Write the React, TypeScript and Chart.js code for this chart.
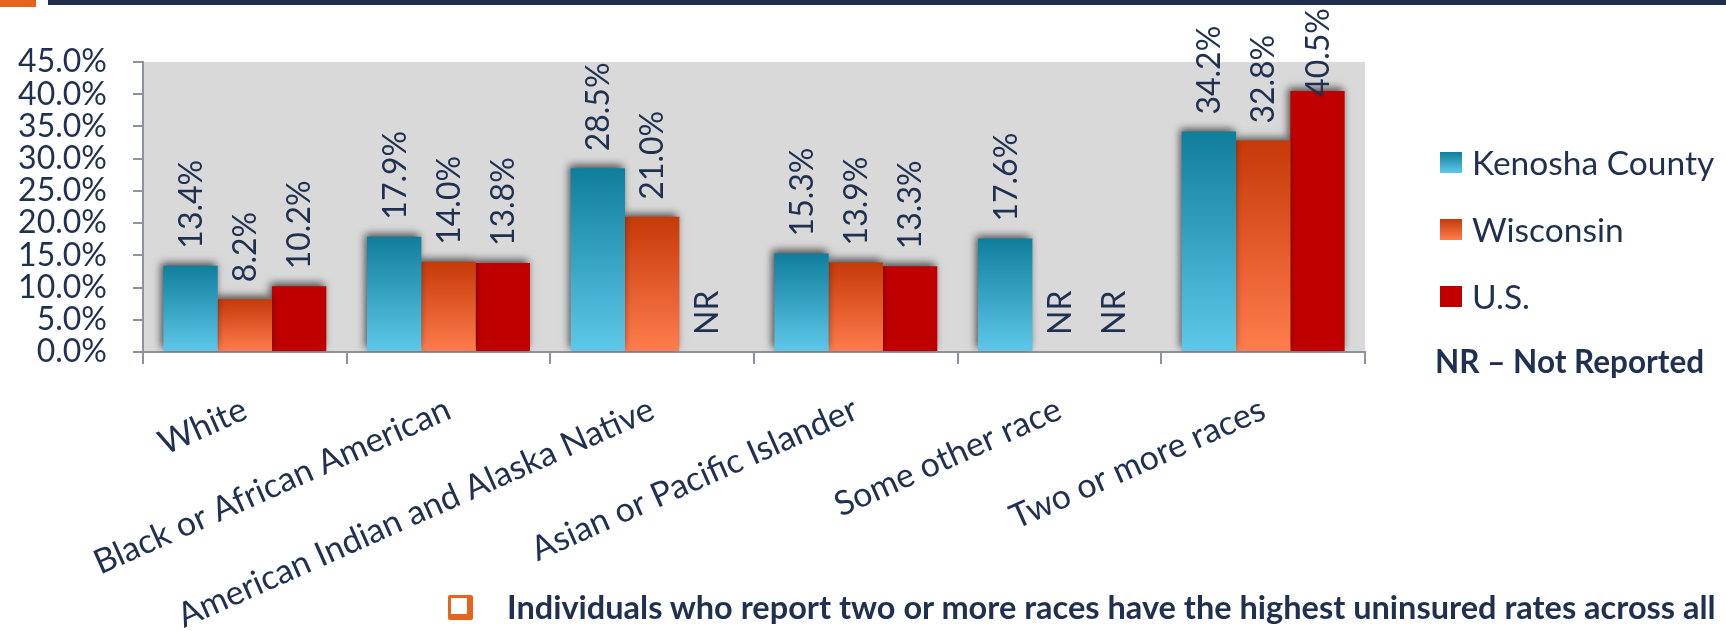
import React, { useEffect, useRef } from "react";
import { Chart, registerables } from "chart.js";

Chart.register(...registerables);

const categories = [
  "White",
  "Black or African American",
  "American Indian and Alaska Native",
  "Asian or Pacific Islander",
  "Some other race",
  "Two or more races",
];
const seriesNames = ["Kenosha County", "Wisconsin", "U.S."];
const kenosha = [13.4, 17.9, 28.5, 15.3, 17.6, 34.2];
const wisconsin = [8.2, 14.0, 21.0, 13.9, null, 32.8];
const us = [10.2, 13.8, null, 13.3, null, 40.5];
const yTicks = [0, 5, 10, 15, 20, 25, 30, 35, 40, 45];
const noteText = "NR \u2013 Not Reported";
const footText =
  "Individuals who report two or more races have the highest uninsured rates across all";

const NAVY = "#1F3050";
const gradients: [string, string][] = [
  ["#0F7E9D", "#5FC8EA"],
  ["#C63908", "#FF7D4E"],
  ["#C00000", "#C00000"],
];
const FONT = "Lato, 'Open Sans', sans-serif";

const makeGrad = (top: string, bottom: string) => (c: any) => {
  const chart = c.chart;
  const ys = chart.scales && chart.scales.y;
  if (!ys || c.type !== "data" || c.raw == null) return bottom;
  const yTop = ys.getPixelForValue(c.raw);
  const yBot = ys.getPixelForValue(0);
  if (!isFinite(yTop) || !isFinite(yBot)) return bottom;
  const g = chart.ctx.createLinearGradient(0, yTop, 0, yBot);
  g.addColorStop(0, top);
  g.addColorStop(1, bottom);
  return g;
};

const LABEL_FONT = `32px ${FONT}`;

const bgPlugin = {
  id: "plotBg",
  beforeDraw(chart: any) {
    const { ctx, chartArea } = chart;
    if (!chartArea) return;
    ctx.save();
    ctx.fillStyle = "#D9D9D9";
    ctx.fillRect(chartArea.left, chartArea.top, chartArea.right - chartArea.left, chartArea.bottom - chartArea.top);
    ctx.restore();
  },
  beforeDatasetsDraw(chart: any) {
    const ctx = chart.ctx;
    ctx.save();
    ctx.shadowColor = "rgba(0,0,0,0.65)";
    ctx.shadowBlur = 8;
    ctx.shadowOffsetX = -2;
    ctx.shadowOffsetY = -3;
  },
  afterDatasetsDraw(chart: any) {
    const ctx = chart.ctx;
    ctx.restore();
    const ys = chart.scales.y;
    const xs = chart.scales.x;
    ctx.save();
    ctx.fillStyle = NAVY;
    ctx.font = LABEL_FONT;
    ctx.textAlign = "left";
    ctx.textBaseline = "middle";
    chart.data.datasets.forEach((ds: any, di: number) => {
      const meta = chart.getDatasetMeta(di);
      meta.data.forEach((el: any, i: number) => {
        const v = ds.data[i];
        let x = el.x;
        if (!isFinite(x)) {
          const w = xs.getPixelForTick(1) - xs.getPixelForTick(0);
          x = xs.getPixelForTick(i) + (di - 1) * w * 0.8 / 3;
        }
        const yb = v == null ? ys.getPixelForValue(0) : ys.getPixelForValue(v);
        const txt = v == null ? "NR" : v.toFixed(1) + "%";
        const tw = ctx.measureText(txt).width;
        // start of the rotated label, kept inside the canvas (8px top margin)
        const start = Math.max(yb - 17 - tw, 8) + tw;
        ctx.save();
        ctx.translate(x, start);
        ctx.rotate(-Math.PI / 2);
        ctx.fillText(txt, 0, 1);
        ctx.restore();
      });
    });
    ctx.restore();
  },
};

export default function App() {
  const ref = useRef<HTMLCanvasElement>(null);
  useEffect(() => {
    document.body.style.margin = "0";
    const chart = new Chart(ref.current!, {
      type: "bar",
      data: {
        labels: categories,
        datasets: [kenosha, wisconsin, us].map((d, i) => ({
          label: seriesNames[i],
          data: d as any,
          backgroundColor: makeGrad(gradients[i][0], gradients[i][1]) as any,
          borderWidth: 0,
          categoryPercentage: 0.8,
          barPercentage: 1.0,
        })),
      },
      options: {
        animation: false,
        responsive: false,
        devicePixelRatio: 1,
        layout: { padding: { left: 0, top: 62, right: 361, bottom: 0 } },
        plugins: { legend: { display: false }, tooltip: { enabled: false } },
        scales: {
          x: {
            grid: {
              display: true,
              drawOnChartArea: false,
              drawTicks: true,
              tickLength: 12,
              color: "#8C939E",
              lineWidth: 2,
              offset: true,
            },
            border: { display: true, color: "#8C939E", width: 2 },
            ticks: {
              color: NAVY,
              font: { family: FONT, size: 34 },
              minRotation: 24,
              maxRotation: 24,
              padding: 25,
              autoSkip: false,
            },
            afterFit(scale: any) {
              scale.height = 631 - 352;
            },
          },
          y: {
            min: 0,
            max: 45,
            afterBuildTicks(scale: any) {
              scale.ticks = yTicks.map((v) => ({ value: v }));
            },
            grid: {
              display: true,
              drawOnChartArea: false,
              drawTicks: true,
              tickLength: 10,
              color: "#8C939E",
              lineWidth: 2,
            },
            border: { display: true, color: "#8C939E", width: 2 },
            ticks: {
              color: NAVY,
              font: { family: FONT, size: 32 },
              padding: 26,
              autoSkip: false,
              callback: (v: any) => Number(v).toFixed(1) + "%",
            },
            afterFit(scale: any) {
              scale.width = 143;
            },
          },
        },
      },
      plugins: [bgPlugin],
    });
    return () => chart.destroy();
  }, []);

  const legendTops = [151, 218, 285];
  return (
    <div style={{ position: "fixed", left: 0, top: 0, width: 1726, height: 631, background: "#fff", overflow: "hidden", fontFamily: FONT }}>
      <div style={{ position: "absolute", left: 0, top: 0, width: 36, height: 7, background: "#E8641E" }} />
      <div style={{ position: "absolute", left: 48, top: 0, right: 0, height: 5, background: "#1F2E4D" }} />
      <canvas ref={ref} width={1726} height={631} style={{ position: "absolute", left: 0, top: 0, width: 1726, height: 631 }} />
      {seriesNames.map((name, i) => (
        <div key={name} style={{ position: "absolute", left: 1440, top: legendTops[i], height: 22, display: "flex", alignItems: "center", whiteSpace: "nowrap" }}>
          <div style={{ width: 22, height: 21, background: `linear-gradient(${gradients[i][0]}, ${gradients[i][1]})` }} />
          <span style={{ marginLeft: 10, fontSize: 33.5, color: NAVY, lineHeight: "22px" }}>{name}</span>
        </div>
      ))}
      <div style={{ position: "absolute", left: 1435, top: 343, fontSize: 31.5, fontWeight: 700, color: NAVY, whiteSpace: "nowrap", lineHeight: "36px" }}>{noteText}</div>
      <div style={{ position: "absolute", left: 448, top: 595, width: 25, height: 25, border: "3px solid #E8641E", borderRightWidth: 6, borderBottomWidth: 6, boxSizing: "border-box", borderRadius: 2 }} />
      <div style={{ position: "absolute", left: 507, top: 589, fontSize: 32.5, fontWeight: 700, color: NAVY, whiteSpace: "nowrap", lineHeight: "36px" }}>{footText}</div>
    </div>
  );
}
